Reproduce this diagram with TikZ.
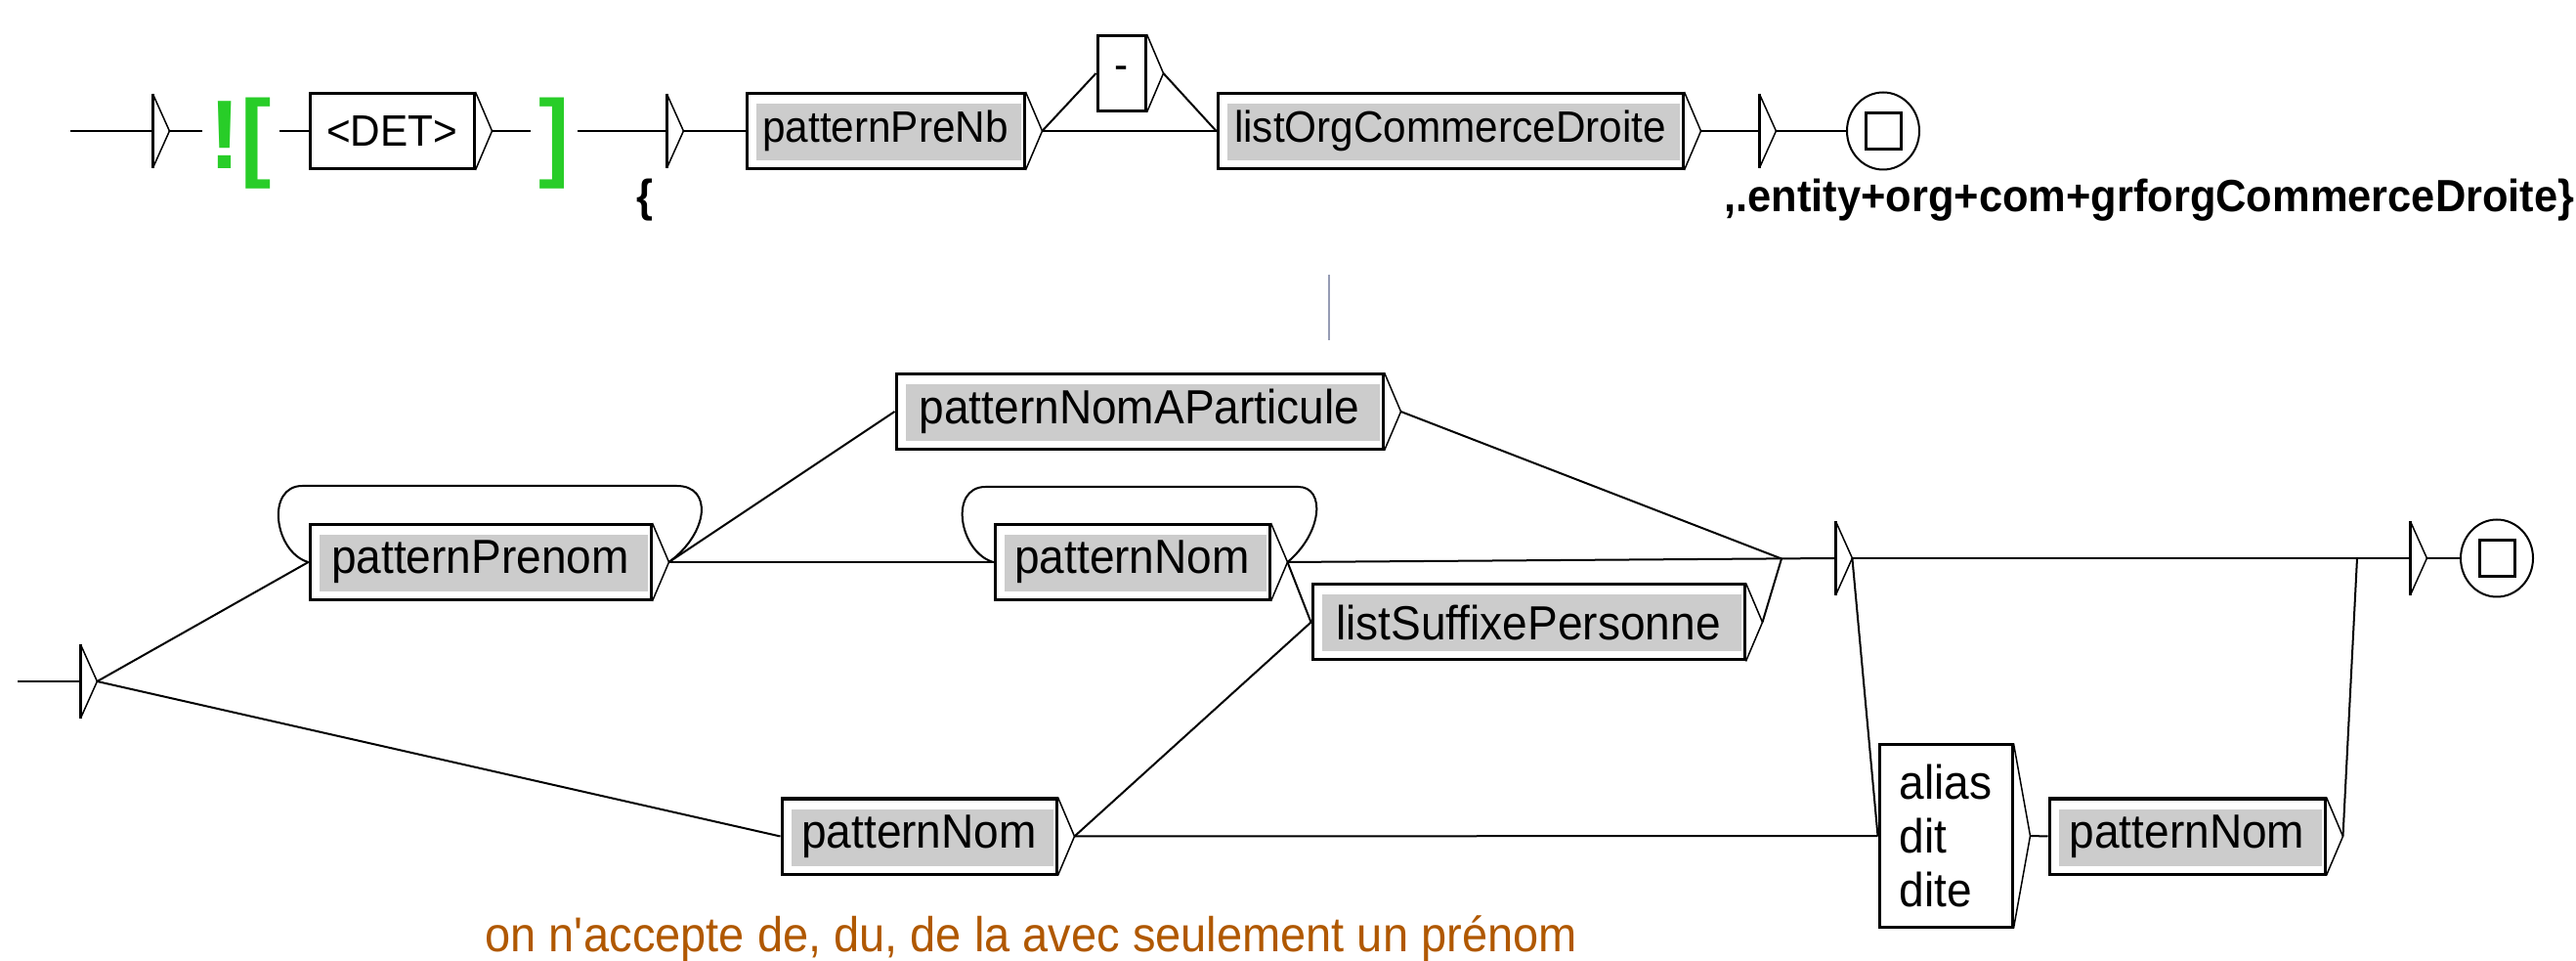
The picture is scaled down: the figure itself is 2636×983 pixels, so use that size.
\documentclass[tikz,border=0pt]{standalone}
\usepackage{fontspec}
\usetikzlibrary{shapes.geometric}
\newfontfamily\unifont[FakeStretch=0.94]{Liberation Sans}
\definecolor{boxgray}{RGB}{204,204,204}
\definecolor{ctxgreen}{RGB}{40,205,40}
\definecolor{notebrown}{RGB}{176,88,0}
\definecolor{guidegray}{RGB}{150,156,180}
\tikzset{
  trans/.style={line width=1pt},
  apexline/.style={line width=0.75pt},
  withapex/.style={append after command={
      (\tikzlastnode.north east) edge[apexline] ([xshift=8.5pt]\tikzlastnode.east)
      (\tikzlastnode.south east) edge[apexline] ([xshift=8.5pt]\tikzlastnode.east)}},
  unibox/.style={draw, line width=1.5pt, fill=white, inner sep=0pt, minimum height=38.5pt, withapex},
  callbox/.style={unibox, path picture={\fill[boxgray]
      ([shift={(4.75pt,-5.25pt)}]path picture bounding box.north west) rectangle
      ([shift={(-1.75pt,4.25pt)}]path picture bounding box.south east);}},
  emptybox/.style={inner sep=0pt, minimum width=0pt, minimum height=37.5pt, withapex,
      append after command={(\tikzlastnode.north) edge[line width=1.5pt] (\tikzlastnode.south)}},
  finalstate/.style={ellipse, draw, line width=1pt, inner sep=0pt, minimum width=37pt, minimum height=39.5pt,
      path picture={\draw[line width=1.5pt]
      ([shift={(-9pt,-9.25pt)}]path picture bounding box.center) rectangle
      ([shift={(9pt,9.25pt)}]path picture bounding box.center);}},
  toptext/.style={font=\unifont\fontsize{22.5}{27}\selectfont},
  bottext/.style={font=\unifont\fontsize{24.5}{27.5}\selectfont},
  outtext/.style={font=\unifont\bfseries\fontsize{23.1}{27}\selectfont, anchor=base west, inner sep=0pt},
  ctxmark/.style={font=\unifont\bfseries\fontsize{50}{55}\selectfont, text=ctxgreen,
      anchor=base west, inner xsep=4pt, inner ysep=0pt},
}
\begin{document}
\begin{tikzpicture}[x=0.5pt,y=-0.5pt]
\useasboundingbox (0,0) rectangle (2636,983);

% upper graph
\coordinate (tstart) at (72,134);
\node[emptybox] (ti1) at (156,134) {};
\node[ctxmark] (negctx) at (206.5,173) {![};
\node[unibox, toptext, minimum width=84pt] (det) at (401,134) {<DET>};
\node[ctxmark] (ctxend) at (543,173) {]};
\node[emptybox] (te1) at (682,134) {};
\node[callbox, toptext, minimum width=142pt] (ppnb) at (906,134) {patternPreNb};
\node[unibox, toptext, minimum width=24.5pt] (dash) at (1147.5,75) {-};
\node[callbox, toptext, minimum width=238pt] (lorg) at (1484,134) {listOrgCommerceDroite};
\node[emptybox] (te2) at (1800,134) {};
\node[finalstate] (tf) at (1927,134) {};

% Text Node
\node[outtext] (out1) at (651,217) {\{};
% Text Node
\node[outtext] (out2) at (1764,217) {,.entity+org+com+grforgCommerceDroite\}};

% lower graph
\coordinate (bstart) at (18,697);
\node[emptybox] (bi) at (82,697) {};
\node[callbox, bottext, minimum width=174.5pt] (pprenom) at (491.5,575) {patternPrenom};
\node[callbox, bottext, minimum width=249pt] (pna) at (1166,421) {patternNomAParticule};
\node[callbox, bottext, minimum width=140.5pt] (pnom1) at (1158.5,575) {patternNom};
\node[callbox, bottext, minimum width=221pt] (lsp) at (1564,636.5) {listSuffixePersonne};
\node[callbox, bottext, minimum width=140.5pt] (pnom2) at (940.5,855.5) {patternNom};
\node[emptybox] (be1) at (1878,571) {};
\node[unibox, bottext, minimum width=68pt, minimum height=93pt, align=left] (alias) at (1991,855) {alias\\dit\\dite};
\node[callbox, bottext, minimum width=141pt] (pnom3) at (2238,855.5) {patternNom};
\node[emptybox] (be2) at (2466,571) {};
\node[finalstate] (bf) at (2555,571) {};
\coordinate (merge1) at (1823,571.5);
\coordinate (merge2) at (2412,571);

% Text Node
\node[bottext, font=\unifont\fontsize{25}{28}\selectfont, text=notebrown, anchor=base west, inner sep=0pt] (note) at (496,973)
  {on n\textquotesingle accepte de, du, de la avec seulement un prénom};

\foreach \n in {ti1,det,te1,ppnb,dash,lorg,te2,bi,pprenom,pna,pnom1,lsp,pnom2,alias,pnom3,be1,be2}
  \coordinate (\n\space tip) at ([xshift=8.5pt]\n.east);

%Straight Lines
\draw[trans] (tstart) -- (ti1.west);
\draw[trans] (ti1 tip) -- (negctx.west |- ti1 tip);
\draw[trans] (negctx.east |- det.west) -- (det.west);
\draw[trans] (det tip) -- (ctxend.west |- det tip);
\draw[trans] (ctxend.east |- te1.west) -- (te1.west);
\draw[trans] (te1 tip) -- (ppnb.west);
\draw[trans] (ppnb tip) -- (dash.west);
\draw[trans] (ppnb tip) -- (lorg.west);
\draw[trans] (dash tip) -- (lorg.west);
\draw[trans] (lorg tip) -- (te2.west);
\draw[trans] (te2 tip) -- (tf.west);

\draw[guidegray, line width=1pt] (1360,281) -- (1360,348);

%Straight Lines
\draw[trans] (bstart) -- (bi.west);
\draw[trans] (bi tip) -- (pprenom.west);
\draw[trans] (bi tip) -- (pnom2.west);
\draw[trans] (pprenom tip) -- (pna.west);
\draw[trans] (pprenom tip) -- (pnom1.west);
\draw[trans] (pprenom tip) .. controls +(41,-30) and +(37,0) .. ([shift={(25,-38)}]pprenom.north east)
  -- ([shift={(-6,-38)}]pprenom.north west) .. controls +(-38,0) and +(-35,-10) .. (pprenom.west);
\draw[trans] (pnom1 tip) .. controls +(36,-30) and +(28,0) .. ([shift={(28,-37)}]pnom1.north east)
  -- ([shift={(-8,-37)}]pnom1.north west) .. controls +(-38,0) and +(-35,-10) .. (pnom1.west);
\draw[trans] (pna tip) -- (merge1);
\draw[trans] (pnom1 tip) -- (be1.west);
\draw[trans] (pnom1 tip) -- (lsp.west);
\draw[trans] (lsp tip) -- (merge1);
\draw[trans] (pnom2 tip) -- (lsp.west);
\draw[trans] (pnom2 tip) -- (alias.west);
\draw[trans] (be1 tip) -- (alias.west);
\draw[trans] (be1 tip) -- (be2.west);
\draw[trans] (alias tip) -- (pnom3.west);
\draw[trans] (pnom3 tip) -- (merge2);
\draw[trans] (be2 tip) -- (bf.west);
\end{tikzpicture}
\end{document}
